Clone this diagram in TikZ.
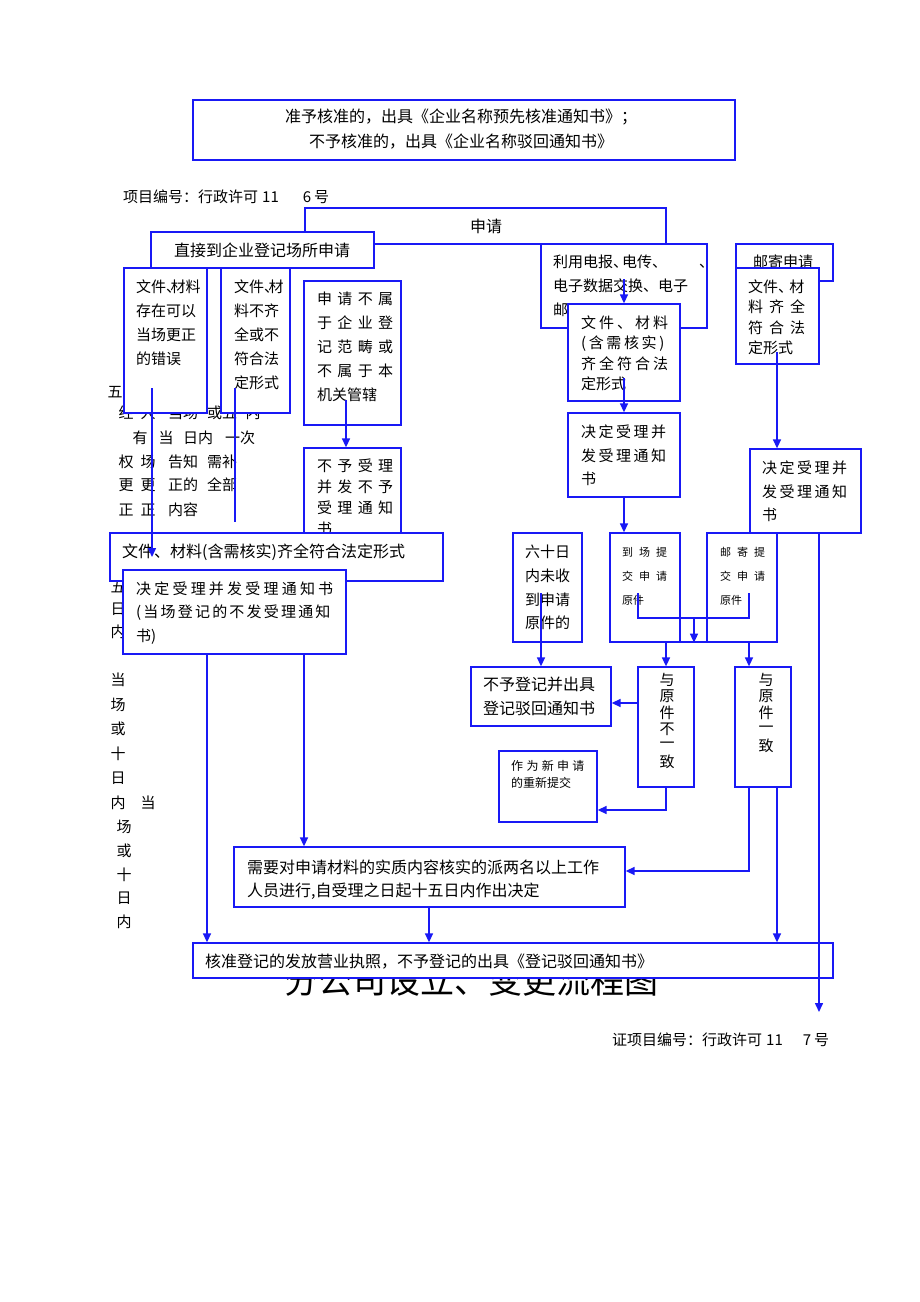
\documentclass[tikz,border=0pt]{standalone}
\usepackage{fontspec}
\setmainfont{Noto Sans CJK SC}
\usetikzlibrary{fit,arrows.meta}
\definecolor{lb}{RGB}{25,25,245}
\makeatletter
\newcommand\spc[2]{\@tfor\spcch:=#2\do{\spcch\hspace{#1}}}
\makeatother
\newcommand\hwc[1][0.3em]{\makebox[#1][l]{、}}
\newcommand\fz[1]{\fontsize{#1}{#1}\selectfont}
\newcommand\tlines[6][]{\foreach \li [count=\i from 0] in {#6}{\node[tx,#1] (#2-\i) at (#3,{#4+\i*#5}) {\li};}}
\newcommand\bx[5]{\node[box,fit={(#2,#3) (#4,#5)}] (#1) {};}
\begin{document}
\begin{tikzpicture}[x=1pt,y=-1pt,
  tx/.style={inner sep=0pt, anchor=west, font=\fz{15}},
  box/.style={draw=lb, line width=1.3pt, fill=white, inner sep=0pt},
  arr/.style={draw=lb, line width=1.5pt, -{Triangle[length=9pt,width=8pt]}},
  ln/.style={draw=lb, line width=1.5pt}]
\fill[white] (0,0) rectangle (920,1302);
\useasboundingbox (0,0) rectangle (920,1302);

% background fragments
\node[tx,anchor=center] (f0) at (115,392) {五};
\node[tx,anchor=center] (f1a) at (126,413) {经};
\node[tx,anchor=center] (f1b) at (148,413) {人};
\node[tx,anchor=center] (f1c) at (183,413) {当场};
\node[tx,anchor=center] (f1d) at (222,413) {或五};
\node[tx,anchor=center] (f1e) at (253,413) {内};
\node[tx,anchor=center] (f2a) at (140,438) {有};
\node[tx,anchor=center] (f2b) at (166,438) {当};
\node[tx,anchor=center] (f2c) at (198,438) {日内};
\node[tx,anchor=center] (f2d) at (240,438) {一次};
\node[tx,anchor=center] (f3a) at (126,462) {权};
\node[tx,anchor=center] (f3b) at (148,462) {场};
\node[tx,anchor=center] (f3c) at (183,462) {告知};
\node[tx,anchor=center] (f3d) at (222,462) {需补};
\node[tx,anchor=center] (f4a) at (126,485) {更};
\node[tx,anchor=center] (f4b) at (148,485) {更};
\node[tx,anchor=center] (f4c) at (183,485) {正的};
\node[tx,anchor=center] (f4d) at (222,485) {全部};
\node[tx,anchor=center] (f5a) at (126,510) {正};
\node[tx,anchor=center] (f5b) at (148,510) {正};
\node[tx,anchor=center] (f5c) at (183,510) {内容};
\tlines[anchor=center]{fg}{118}{587}{22.5}{五,日,内}
\tlines[anchor=center]{fc}{118}{680}{24.6}{当,场,或,十,日,内}
\node[tx,anchor=center] (fd0) at (148,803) {当};
\tlines[anchor=center]{fd}{124}{827}{23.7}{场,或,十,日,内}
\node[tx,anchor=center,font=\fz{34}] (title) at (471,980) {分公司设立、变更流程图};

% top
\bx{btop}{193}{100}{735}{160}
\tlines[anchor=center,font=\fz{16}]{ttop}{461}{117}{25}{准予核准的，出具《企业名称预先核准通知书》；,不予核准的，出具《企业名称驳回通知书》}
\node[tx] (pn1) at (123,197) {项目编号：行政许可\hspace{4pt}11\hspace{24pt}6\hspace{3pt}号};
\node[tx] (pn2) at (612,1040) {证项目编号：行政许可\hspace{4pt}11\hspace{20pt}7\hspace{3pt}号};

% boxes
\bx{bapp}{305}{208}{666}{244}
\node[tx,anchor=center,font=\fz{16}] (tapp) at (486,226) {申请};
\bx{bdir}{151}{232}{374}{268}
\node[tx,anchor=center,font=\fz{16}] (tdir) at (262,250) {直接到企业登记场所申请};
\bx{b5}{124}{268}{207}{413}
\tlines{t5}{136}{287}{24}{文件\hwc 材料,存在可以,当场更正,的错误}
\bx{b6}{221}{268}{290}{413}
\tlines{t6}{234}{287}{24}{文件\hwc 材,料不齐,全或不,符合法,定形式}
\bx{b7}{304}{281}{401}{425}
\tlines{t7}{317}{299}{24}{\spc{5.3pt}{申请不属},\spc{5.3pt}{于企业登},\spc{5.3pt}{记范畴或},\spc{5.3pt}{不属于本}}
\node[tx] (t7-4) at (317,395) {机关管辖};
\bx{b8}{304}{448}{401}{545}
\tlines{t8}{317}{466}{20.8}{\spc{5.3pt}{不予受理},\spc{5.3pt}{并发不予},\spc{5.3pt}{受理通知},书}
\bx{b9}{110}{533}{443}{581}
\node[tx,font=\fz{16}] (t9) at (122,552) {文件、材料(含需核实)齐全符合法定形式};
\bx{b10}{123}{570}{346}{654}
\node[tx] (t10-0) at (136,589) {\spc{3.2pt}{决定受理并发受理通知书}};
\node[tx] (t10-1) at (136,613) {\spc{2.2pt}{(当场登记的不发受理通知}};
\node[tx] (t10-2) at (136,637) {书)};

\bx{b11}{541}{244}{707}{328}
\tlines{t11}{553}{262}{24}{利用电报\hwc[0.6em]电传\hwc[0.6em]\hspace{38pt}、,电子数据交换、电子,邮}
\bx{b12}{568}{304}{680}{401}
\tlines{t12}{581}{323}{20.4}{\spc{3pt}{文件、材料},\spc{2.6pt}{(含需核实)},\spc{3pt}{齐全符合法}}
\node[tx] (t12-3) at (581,384) {定形式};
\bx{b13}{568}{413}{680}{497}
\tlines{t13}{581}{432}{23.5}{\spc{2.5pt}{决定受理并},\spc{2.5pt}{发受理通知},书}
\bx{b14}{736}{244}{833}{281}
\node[tx] (t14) at (753,262) {邮寄申请};
\bx{b15}{736}{268}{819}{364}
\node[tx] (t15-0) at (748,287) {文件\hwc[0.75em]材};
\tlines{t15}{748}{307}{20.5}{\spc{6pt}{料齐全},\spc{6pt}{符合法}}
\node[tx] (t15-3) at (748,348) {定形式};
\bx{b16}{750}{449}{861}{533}
\tlines{t16}{762}{468}{23.5}{\spc{2.5pt}{决定受理并},\spc{2.5pt}{发受理通知},书}
\bx{b17}{513}{533}{582}{642}
\tlines{t17}{525}{552}{23.7}{六十日,内未收,到申请,原件的}
\bx{b19}{610}{533}{680}{642}
\tlines[font=\fz{11}]{t19}{622}{552}{24}{\spc{6pt}{到场提},\spc{6pt}{交申请},原件}
\bx{b20}{707}{533}{777}{642}
\tlines[font=\fz{11}]{t20}{720}{552}{24}{\spc{6pt}{邮寄提},\spc{6pt}{交申请},原件}
\bx{b18}{471}{667}{611}{726}
\tlines[font=\fz{16}]{t18}{483}{684}{24}{不予登记并出具,登记驳回通知书}
\bx{b21}{638}{667}{694}{787}
\tlines[anchor=center]{t21}{667}{680}{16.4}{与,原,件,不,一,致}
\bx{b22}{499}{751}{597}{822}
\node[tx,font=\fz{12}] (t22-0) at (511,766) {\spc{3.3pt}{作为新申请}};
\node[tx,font=\fz{12}] (t22-1) at (511,783) {的重新提交};
\bx{b23}{735}{667}{791}{787}
\tlines[anchor=center]{t23}{766}{680}{16.4}{与,原,件,一,致}
\bx{b24}{234}{847}{625}{907}
\node[tx,font=\fz{16}] (t24-0) at (247,867) {需要对申请材料的实质内容核实的派两名以上工作};
\node[tx,font=\fz{16}] (t24-1) at (247,891) {人员进行,自受理之日起十五日内作出决定};
\bx{bfin}{193}{943}{833}{978}
\node[tx,font=\fz{16}] (tfin) at (205,962) {核准登记的发放营业执照，不予登记的出具《登记驳回通知书》};

% connectors
\coordinate (s1) at (152,388); \coordinate (e1) at (152,557);
\draw[arr] (s1) -- (e1);
\coordinate (s2) at (235,388); \coordinate (e2) at (235,522);
\draw[ln] (s2) -- (e2);
\coordinate (s3) at (346,400); \draw[arr] (s3) -- (s3 |- b8.north);
\coordinate (s4) at (624,279); \draw[arr] (s4) -- (s4 |- b12.north);
\coordinate (s5) at (624,378); \draw[arr] (s5) -- (s5 |- b13.north);
\coordinate (s6) at (777,352); \draw[arr] (s6) -- (s6 |- b16.north);
\coordinate (s7) at (624,497); \draw[arr] (s7) -- (s7 |- b19.north);
\coordinate (s8) at (541,593); \draw[arr] (s8) -- (s8 |- b18.north);
\coordinate (s9a) at (638,593); \coordinate (s9b) at (749,593); \coordinate (m9) at (694,618);
\draw[ln] (s9a) |- (m9) -| (s9b);
\draw[arr] (m9) -- (m9 |- b19.south);
\coordinate (j10a) at (666,642); \coordinate (j10b) at (749,642);
\draw[ln] (j10a) -- (j10b);
\draw[arr] (j10a) -- (j10a |- b21.north);
\draw[arr] (j10b) -- (j10b |- b23.north);
\coordinate (s11) at (638,703); \draw[arr] (s11) -- (s11 -| b18.east);
\coordinate (s12) at (666,787); \coordinate (m12) at (666,810);
\draw[arr] (s12) -- (m12) -- (m12 -| b22.east);
\coordinate (s13) at (749,787); \coordinate (m13) at (749,871);
\draw[arr] (s13) -- (m13) -- (m13 -| b24.east);
\coordinate (s14) at (777,787); \draw[arr] (s14) -- (s14 |- bfin.north);
\coordinate (s15) at (819,533); \coordinate (e15) at (819,1012);
\draw[arr] (s15) -- (e15);
\coordinate (s16) at (207,654); \draw[arr] (s16) -- (s16 |- bfin.north);
\coordinate (s17) at (304,654); \draw[arr] (s17) -- (s17 |- b24.north);
\coordinate (s18) at (429,907); \draw[arr] (s18) -- (s18 |- bfin.north);
\end{tikzpicture}
\end{document}
